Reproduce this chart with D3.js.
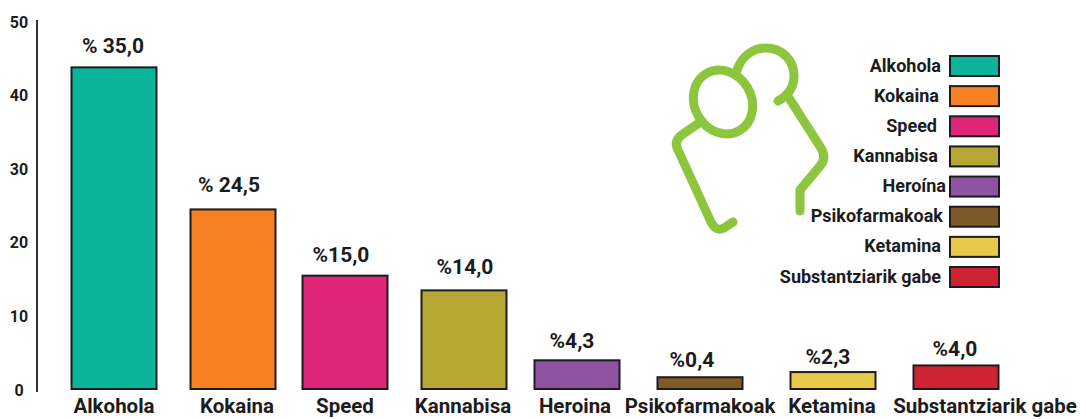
<!DOCTYPE html>
<html><head><meta charset="utf-8">
<script src="https://cdn.jsdelivr.net/npm/d3@7"></script>
<style>html,body{margin:0;padding:0;background:#fff}svg{display:block}text{font-family:Roboto,sans-serif;font-weight:700;fill:#1c1c1e}</style>
</head><body><svg id="c" width="1086" height="419"></svg>
<script>
const categories=["Alkohola","Kokaina","Speed","Kannabisa","Heroina","Psikofarmakoak","Ketamina","Substantziarik gabe"];
const legendNames=["Alkohola","Kokaina","Speed","Kannabisa","Heroína","Psikofarmakoak","Ketamina","Substantziarik gabe"];
const barValues=[43.7,24.4,15.4,13.4,3.9,1.6,2.3,3.2];
const valueLabels=["% 35,0","% 24,5","%15,0","%14,0","%4,3","%0,4","%2,3","%4,0"];
const colors=["#0bb59a","#f78023","#de2577","#b7a733","#8e53a1","#7d5a28","#e8c94a","#ce2333"];
const yTicks=[0,10,20,30,40,50];

const svg=d3.select("#c");
const y=d3.scaleLinear().domain([0,50]).range([389,21]);
const x=d3.scaleOrdinal().domain(categories).range([114,233,345,464,577,700,833,956]);
const catX=d3.scaleOrdinal().domain(categories).range([114,237,345,463,575,700,832,985]);
const valX=d3.scaleOrdinal().domain(valueLabels).range([113,229,341,465,572,692,828,955]);
const barW=85;

svg.append("line").attr("x1",37).attr("x2",37).attr("y1",20).attr("y2",392).attr("stroke","#333").attr("stroke-width",2);
svg.selectAll(".yt").data(yTicks).join("text").attr("x",19).attr("y",d=>y(d)+6.5)
  .attr("text-anchor","middle").attr("font-size",16).text(d=>d);

svg.selectAll(".bar").data(categories).join("rect")
  .attr("x",d=>x(d)-barW/2).attr("width",barW)
  .attr("y",(d,i)=>y(barValues[i])).attr("height",(d,i)=>y(0)-y(barValues[i]))
  .attr("fill",(d,i)=>colors[i]).attr("stroke","#1c1c1e").attr("stroke-width",2);

const labelGap=[14,17,14,16,12,10,8,9];
svg.selectAll(".val").data(valueLabels).join("text")
  .attr("x",d=>valX(d))
  .attr("y",(d,i)=>y(barValues[i])-labelGap[i])
  .attr("text-anchor","middle").attr("font-size",21).text(d=>d);

svg.selectAll(".cat").data(categories).join("text")
  .attr("x",d=>catX(d)).attr("y",413).attr("text-anchor","middle").attr("font-size",20.5).text(d=>d);

// legend
const ly=d3.scalePoint().domain(legendNames).range([66,277]);
const lg=svg.selectAll(".lg").data(legendNames).join("g").attr("transform",d=>`translate(0,${ly(d)})`);
lg.append("rect").attr("x",950).attr("y",-10).attr("width",49).attr("height",20)
  .attr("fill",(d,i)=>colors[i]).attr("stroke","#1c1c1e").attr("stroke-width",2);
lg.append("text").attr("x",(d,i)=>[941,939,937,938,946,943,941,941][i]).attr("y",5.5)
  .attr("text-anchor","end").attr("font-size",18).text(d=>d);

// pictogram
const g=svg.append("g").attr("fill","none").attr("stroke","#8cc63f").attr("stroke-width",9).attr("stroke-linecap","round").attr("stroke-linejoin","round");
g.append("ellipse").attr("cx",723).attr("cy",102).attr("rx",28.5).attr("ry",33).attr("transform","rotate(-30 723 102)");
g.append("path").attr("d","M737 70C742 55 754 48 766 48C782 48 794 60 794 76C794 88 787 96 778 101");
g.append("path").attr("d","M789 98L821 148Q827 158 820 166L800 190L800 211");
g.append("path").attr("d","M702 121L683 134Q673 141 678 150L711 222Q716 232 724 228L733 222");
</script></body></html>
